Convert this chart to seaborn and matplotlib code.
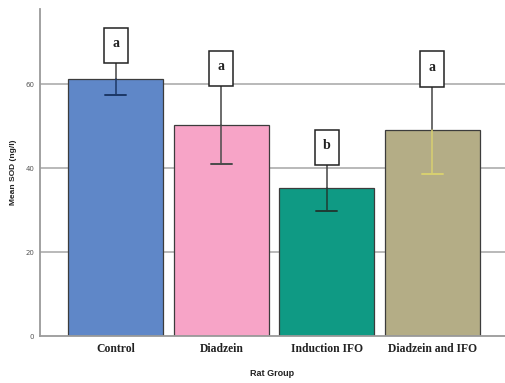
import matplotlib
matplotlib.use("Agg")
import matplotlib.pyplot as plt
from matplotlib.patches import Rectangle
import seaborn as sns
import pandas as pd

groups = ["Control", "Diadzein", "Induction IFO", "Diadzein and IFO"]
mean_sod = [61.2, 50.2, 35.2, 49.0]
sod_err = [3.8, 9.3, 5.5, 10.4]
letters = ["a", "a", "b", "a"]
bar_colors = ["#5f87c8", "#f7a4c7", "#0f9a84", "#b4ad86"]
err_colors = ["#1c3766", "#4a4a4a", "#1f3b33", "#d8d070"]
y_ticks = [0, 20, 40, 60]

df = pd.DataFrame({"Rat Group": groups, "Mean SOD": mean_sod})

sns.set_style("white")
fig = plt.figure(figsize=(5.05, 3.83), dpi=100)
ax = fig.add_axes([0.079, 0.1227, 0.921, 0.855])

for yv in y_ticks[1:]:
    ax.axhline(yv, color="#b3b3b3", lw=1.3, zorder=0)

sns.barplot(data=df, x="Rat Group", y="Mean SOD", hue="Rat Group",
            palette=bar_colors, legend=False, width=0.9, ax=ax,
            saturation=1, edgecolor="#3c3c3c", linewidth=0.9, zorder=2)

ax.set_ylim(0, 78)
ax.set_xlim(-0.72, 3.69)

for i, (m, e, c) in enumerate(zip(mean_sod, sod_err, err_colors)):
    # part of the whisker above the bar is dark, the inner part uses the group tone
    ax.plot([i, i], [m, m + e], color="#444444", lw=1.1, zorder=3)
    ax.plot([i, i], [m - e, m], color=c, lw=1.1, zorder=3)
    ax.plot([i - 0.1, i + 0.1], [m - e, m - e], color=c, lw=1.4, zorder=3)

box_w, box_h = 0.23, 8.4
for i, (m, e, lab) in enumerate(zip(mean_sod, sod_err, letters)):
    bottom = m + e
    ax.add_patch(Rectangle((i - box_w / 2, bottom), box_w, box_h,
                           facecolor="white", edgecolor="#222222",
                           lw=1.1, zorder=4))
    ax.text(i, bottom + box_h * 0.55, lab, ha="center", va="center",
            fontsize=10, fontweight="bold", family="Liberation Serif",
            color="#222222", zorder=5)

ax.set_yticks(y_ticks)
ax.set_yticklabels([str(t) for t in y_ticks], fontsize=5, color="#555555")
ax.tick_params(axis="y", length=0, pad=4)
ax.tick_params(axis="x", length=0, pad=5)
for lbl in ax.get_xticklabels():
    lbl.set_family("Liberation Serif")
    lbl.set_fontweight("bold")
    lbl.set_fontsize(8.4)
    lbl.set_color("#222222")

ax.set_xlabel("Rat Group", fontsize=6.5, fontweight="bold",
              family="Liberation Sans", color="#222222", labelpad=10)
ax.set_ylabel("Mean SOD (ng/l)", fontsize=6, fontweight="bold",
              family="Liberation Sans", color="#222222", labelpad=6)

for side in ["top", "right"]:
    ax.spines[side].set_visible(False)
ax.spines["left"].set_color("#9a9a9a")
ax.spines["left"].set_linewidth(1.3)
ax.spines["bottom"].set_color("#9a9a9a")
ax.spines["bottom"].set_linewidth(1.3)

fig.savefig("out.png", dpi=100)
